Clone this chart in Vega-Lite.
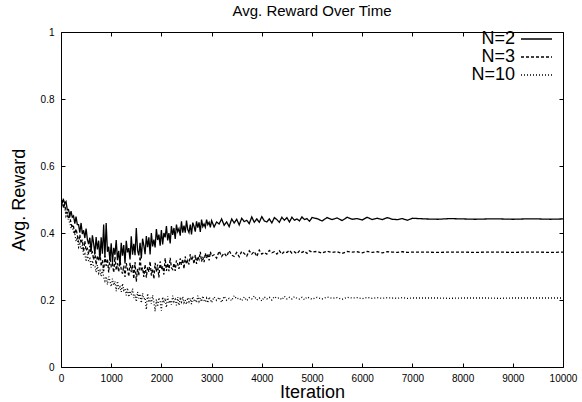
{
"$schema": "https://vega.github.io/schema/vega-lite/v6.json",
"width": 502, "height": 335,
"autosize": {"type": "none"},
"padding": {"left": 61, "top": 32, "right": 19, "bottom": 35},
"background": "white",
"title": {"text": "Avg. Reward Over Time", "fontSize": 15, "fontWeight": "normal", "font": "Liberation Sans", "color": "black", "offset": 8, "anchor": "middle"},
"config": {
  "view": {"stroke": "black", "strokeWidth": 1},
  "axis": {"domain": false, "grid": false, "ticks": true, "tickColor": "black", "tickSize": -4, "labelColor": "black", "labelFontSize": 10, "labelFont": "Liberation Sans", "titleFont": "Liberation Sans", "titleFontWeight": "normal", "titleColor": "black", "titleFontSize": 18, "labelFlush": false, "labelOverlap": false}
},
"data": {"values": [
{"i":0,"N=2":0.512,"N=3":0.499,"N=10":0.492},
{"i":25,"N=2":0.490,"N=3":0.493,"N=10":0.497},
{"i":50,"N=2":0.499,"N=3":0.475,"N=10":0.477},
{"i":75,"N=2":0.488,"N=3":0.486,"N=10":0.475},
{"i":100,"N=2":0.494,"N=3":0.460,"N=10":0.450},
{"i":125,"N=2":0.469,"N=3":0.461,"N=10":0.458},
{"i":150,"N=2":0.470,"N=3":0.442,"N=10":0.436},
{"i":175,"N=2":0.451,"N=3":0.450,"N=10":0.431},
{"i":200,"N=2":0.465,"N=3":0.428,"N=10":0.414},
{"i":225,"N=2":0.447,"N=3":0.415,"N=10":0.420},
{"i":250,"N=2":0.451,"N=3":0.419,"N=10":0.402},
{"i":275,"N=2":0.428,"N=3":0.397,"N=10":0.397},
{"i":300,"N=2":0.449,"N=3":0.412,"N=10":0.375},
{"i":325,"N=2":0.425,"N=3":0.394,"N=10":0.387},
{"i":350,"N=2":0.425,"N=3":0.372,"N=10":0.358},
{"i":375,"N=2":0.401,"N=3":0.395,"N=10":0.367},
{"i":400,"N=2":0.430,"N=3":0.369,"N=10":0.352},
{"i":425,"N=2":0.397,"N=3":0.380,"N=10":0.363},
{"i":450,"N=2":0.408,"N=3":0.345,"N=10":0.334},
{"i":475,"N=2":0.385,"N=3":0.376,"N=10":0.338},
{"i":500,"N=2":0.413,"N=3":0.347,"N=10":0.315},
{"i":525,"N=2":0.381,"N=3":0.353,"N=10":0.336},
{"i":550,"N=2":0.367,"N=3":0.336,"N=10":0.316},
{"i":575,"N=2":0.386,"N=3":0.362,"N=10":0.323},
{"i":600,"N=2":0.344,"N=3":0.338,"N=10":0.297},
{"i":625,"N=2":0.393,"N=3":0.343,"N=10":0.318},
{"i":650,"N=2":0.369,"N=3":0.320,"N=10":0.300},
{"i":675,"N=2":0.338,"N=3":0.342,"N=10":0.300},
{"i":700,"N=2":0.388,"N=3":0.305,"N=10":0.283},
{"i":725,"N=2":0.351,"N=3":0.333,"N=10":0.304},
{"i":750,"N=2":0.377,"N=3":0.317,"N=10":0.280},
{"i":775,"N=2":0.322,"N=3":0.345,"N=10":0.288},
{"i":800,"N=2":0.387,"N=3":0.301,"N=10":0.271},
{"i":825,"N=2":0.338,"N=3":0.319,"N=10":0.291},
{"i":850,"N=2":0.425,"N=3":0.286,"N=10":0.268},
{"i":875,"N=2":0.327,"N=3":0.332,"N=10":0.257},
{"i":900,"N=2":0.430,"N=3":0.302,"N=10":0.270},
{"i":925,"N=2":0.344,"N=3":0.323,"N=10":0.246},
{"i":950,"N=2":0.359,"N=3":0.282,"N=10":0.270},
{"i":975,"N=2":0.318,"N=3":0.328,"N=10":0.257},
{"i":1000,"N=2":0.369,"N=3":0.301,"N=10":0.240},
{"i":1025,"N=2":0.312,"N=3":0.309,"N=10":0.264},
{"i":1050,"N=2":0.356,"N=3":0.282,"N=10":0.244},
{"i":1075,"N=2":0.335,"N=3":0.329,"N=10":0.256},
{"i":1100,"N=2":0.379,"N=3":0.289,"N=10":0.226},
{"i":1125,"N=2":0.319,"N=3":0.310,"N=10":0.256},
{"i":1150,"N=2":0.347,"N=3":0.284,"N=10":0.232},
{"i":1175,"N=2":0.303,"N=3":0.322,"N=10":0.239},
{"i":1200,"N=2":0.371,"N=3":0.290,"N=10":0.224},
{"i":1225,"N=2":0.332,"N=3":0.279,"N=10":0.249},
{"i":1250,"N=2":0.364,"N=3":0.303,"N=10":0.229},
{"i":1275,"N=2":0.309,"N=3":0.269,"N=10":0.234},
{"i":1300,"N=2":0.377,"N=3":0.310,"N=10":0.214},
{"i":1325,"N=2":0.342,"N=3":0.293,"N=10":0.236},
{"i":1350,"N=2":0.355,"N=3":0.270,"N=10":0.209},
{"i":1375,"N=2":0.321,"N=3":0.311,"N=10":0.227},
{"i":1400,"N=2":0.390,"N=3":0.283,"N=10":0.216},
{"i":1425,"N=2":0.335,"N=3":0.305,"N=10":0.234},
{"i":1450,"N=2":0.368,"N=3":0.263,"N=10":0.206},
{"i":1475,"N=2":0.334,"N=3":0.313,"N=10":0.216},
{"i":1500,"N=2":0.415,"N=3":0.255,"N=10":0.195},
{"i":1525,"N=2":0.348,"N=3":0.293,"N=10":0.224},
{"i":1550,"N=2":0.333,"N=3":0.273,"N=10":0.205},
{"i":1575,"N=2":0.371,"N=3":0.330,"N=10":0.218},
{"i":1600,"N=2":0.324,"N=3":0.286,"N=10":0.191},
{"i":1625,"N=2":0.383,"N=3":0.297,"N=10":0.220},
{"i":1650,"N=2":0.363,"N=3":0.269,"N=10":0.203},
{"i":1675,"N=2":0.337,"N=3":0.306,"N=10":0.207},
{"i":1700,"N=2":0.391,"N=3":0.267,"N=10":0.172},
{"i":1725,"N=2":0.358,"N=3":0.298,"N=10":0.219},
{"i":1750,"N=2":0.387,"N=3":0.284,"N=10":0.193},
{"i":1775,"N=2":0.336,"N=3":0.315,"N=10":0.206},
{"i":1800,"N=2":0.400,"N=3":0.273,"N=10":0.189},
{"i":1825,"N=2":0.360,"N=3":0.293,"N=10":0.214},
{"i":1850,"N=2":0.380,"N=3":0.263,"N=10":0.193},
{"i":1875,"N=2":0.357,"N=3":0.311,"N=10":0.166},
{"i":1900,"N=2":0.412,"N=3":0.284,"N=10":0.201},
{"i":1925,"N=2":0.379,"N=3":0.306,"N=10":0.180},
{"i":1950,"N=2":0.395,"N=3":0.267,"N=10":0.207},
{"i":1975,"N=2":0.362,"N=3":0.315,"N=10":0.196},
{"i":2000,"N=2":0.409,"N=3":0.291,"N=10":0.168},
{"i":2025,"N=2":0.366,"N=3":0.301,"N=10":0.209},
{"i":2050,"N=2":0.400,"N=3":0.276,"N=10":0.191},
{"i":2075,"N=2":0.387,"N=3":0.325,"N=10":0.205},
{"i":2100,"N=2":0.421,"N=3":0.287,"N=10":0.178},
{"i":2125,"N=2":0.378,"N=3":0.310,"N=10":0.211},
{"i":2150,"N=2":0.400,"N=3":0.286,"N=10":0.190},
{"i":2175,"N=2":0.369,"N=3":0.326,"N=10":0.199},
{"i":2200,"N=2":0.421,"N=3":0.296,"N=10":0.186},
{"i":2225,"N=2":0.394,"N=3":0.291,"N=10":0.213},
{"i":2250,"N=2":0.415,"N=3":0.310,"N=10":0.195},
{"i":2275,"N=2":0.382,"N=3":0.287,"N=10":0.202},
{"i":2300,"N=2":0.425,"N=3":0.318,"N=10":0.184},
{"i":2325,"N=2":0.404,"N=3":0.307,"N=10":0.209},
{"i":2350,"N=2":0.413,"N=3":0.293,"N=10":0.184},
{"i":2375,"N=2":0.392,"N=3":0.324,"N=10":0.203},
{"i":2400,"N=2":0.435,"N=3":0.305,"N=10":0.194},
{"i":2425,"N=2":0.401,"N=3":0.322,"N=10":0.210},
{"i":2450,"N=2":0.422,"N=3":0.293,"N=10":0.192},
{"i":2475,"N=2":0.401,"N=3":0.330,"N=10":0.200},
{"i":2500,"N=2":0.437,"N=3":0.307,"N=10":0.187},
{"i":2525,"N=2":0.410,"N=3":0.318,"N=10":0.207},
{"i":2550,"N=2":0.401,"N=3":0.306,"N=10":0.195},
{"i":2575,"N=2":0.425,"N=3":0.337,"N=10":0.205},
{"i":2600,"N=2":0.396,"N=3":0.318,"N=10":0.188},
{"i":2625,"N=2":0.431,"N=3":0.327,"N=10":0.210},
{"i":2650,"N=2":0.420,"N=3":0.308,"N=10":0.199},
{"i":2675,"N=2":0.404,"N=3":0.335,"N=10":0.202},
{"i":2700,"N=2":0.435,"N=3":0.308,"N=10":0.192},
{"i":2725,"N=2":0.416,"N=3":0.330,"N=10":0.213},
{"i":2750,"N=2":0.432,"N=3":0.321,"N=10":0.196},
{"i":2775,"N=2":0.403,"N=3":0.344,"N=10":0.206},
{"i":2800,"N=2":0.440,"N=3":0.315,"N=10":0.195},
{"i":2825,"N=2":0.419,"N=3":0.329,"N=10":0.212},
{"i":2850,"N=2":0.427,"N=3":0.313,"N=10":0.199},
{"i":2875,"N=2":0.417,"N=3":0.340,"N=10":0.194},
{"i":2900,"N=2":0.440,"N=3":0.325,"N=10":0.205},
{"i":2925,"N=2":0.425,"N=3":0.338,"N=10":0.191},
{"i":2950,"N=2":0.432,"N=3":0.318,"N=10":0.209},
{"i":2975,"N=2":0.417,"N=3":0.344,"N=10":0.202},
{"i":3000,"N=2":0.437,"N=3":0.331,"N=10":0.192},
{"i":3050,"N=2":0.418,"N=3":0.335,"N=10":0.209},
{"i":3100,"N=2":0.433,"N=3":0.325,"N=10":0.199},
{"i":3150,"N=2":0.427,"N=3":0.346,"N=10":0.208},
{"i":3200,"N=2":0.442,"N=3":0.330,"N=10":0.193},
{"i":3250,"N=2":0.423,"N=3":0.340,"N=10":0.211},
{"i":3300,"N=2":0.433,"N=3":0.330,"N=10":0.199},
{"i":3350,"N=2":0.419,"N=3":0.347,"N=10":0.205},
{"i":3400,"N=2":0.442,"N=3":0.334,"N=10":0.198},
{"i":3450,"N=2":0.430,"N=3":0.330,"N=10":0.213},
{"i":3500,"N=2":0.441,"N=3":0.342,"N=10":0.203},
{"i":3550,"N=2":0.424,"N=3":0.329,"N=10":0.206},
{"i":3600,"N=2":0.444,"N=3":0.345,"N=10":0.198},
{"i":3650,"N=2":0.434,"N=3":0.339,"N=10":0.209},
{"i":3700,"N=2":0.438,"N=3":0.331,"N=10":0.198},
{"i":3750,"N=2":0.428,"N=3":0.347,"N=10":0.207},
{"i":3800,"N=2":0.448,"N=3":0.337,"N=10":0.203},
{"i":3850,"N=2":0.432,"N=3":0.345,"N=10":0.212},
{"i":3900,"N=2":0.442,"N=3":0.330,"N=10":0.200},
{"i":3950,"N=2":0.432,"N=3":0.349,"N=10":0.206},
{"i":4000,"N=2":0.449,"N=3":0.337,"N=10":0.197},
{"i":4050,"N=2":0.436,"N=3":0.342,"N=10":0.209},
{"i":4100,"N=2":0.433,"N=3":0.337,"N=10":0.203},
{"i":4150,"N=2":0.442,"N=3":0.348,"N=10":0.208},
{"i":4200,"N=2":0.430,"N=3":0.341,"N=10":0.200},
{"i":4250,"N=2":0.446,"N=3":0.344,"N=10":0.210},
{"i":4300,"N=2":0.440,"N=3":0.337,"N=10":0.205},
{"i":4350,"N=2":0.432,"N=3":0.347,"N=10":0.207},
{"i":4400,"N=2":0.447,"N=3":0.337,"N=10":0.201},
{"i":4450,"N=2":0.438,"N=3":0.345,"N=10":0.211},
{"i":4500,"N=2":0.446,"N=3":0.342,"N=10":0.203},
{"i":4550,"N=2":0.433,"N=3":0.348,"N=10":0.208},
{"i":4600,"N=2":0.447,"N=3":0.340,"N=10":0.203},
{"i":4650,"N=2":0.438,"N=3":0.344,"N=10":0.210},
{"i":4700,"N=2":0.442,"N=3":0.338,"N=10":0.205},
{"i":4750,"N=2":0.436,"N=3":0.347,"N=10":0.203},
{"i":4800,"N=2":0.448,"N=3":0.342,"N=10":0.208},
{"i":4850,"N=2":0.440,"N=3":0.346,"N=10":0.201},
{"i":4900,"N=2":0.443,"N=3":0.339,"N=10":0.209},
{"i":4950,"N=2":0.435,"N=3":0.347,"N=10":0.206},
{"i":5000,"N=2":0.446,"N=3":0.343,"N=10":0.202},
{"i":5100,"N=2":0.443,"N=3":0.345,"N=10":0.208},
{"i":5200,"N=2":0.436,"N=3":0.340,"N=10":0.203},
{"i":5300,"N=2":0.446,"N=3":0.346,"N=10":0.209},
{"i":5400,"N=2":0.440,"N=3":0.342,"N=10":0.205},
{"i":5500,"N=2":0.445,"N=3":0.344,"N=10":0.207},
{"i":5600,"N=2":0.437,"N=3":0.339,"N=10":0.202},
{"i":5700,"N=2":0.447,"N=3":0.345,"N=10":0.208},
{"i":5800,"N=2":0.441,"N=3":0.343,"N=10":0.206},
{"i":5900,"N=2":0.443,"N=3":0.344,"N=10":0.207},
{"i":6000,"N=2":0.439,"N=3":0.341,"N=10":0.204},
{"i":6100,"N=2":0.447,"N=3":0.345,"N=10":0.208},
{"i":6200,"N=2":0.440,"N=3":0.342,"N=10":0.205},
{"i":6300,"N=2":0.444,"N=3":0.344,"N=10":0.207},
{"i":6400,"N=2":0.440,"N=3":0.341,"N=10":0.205},
{"i":6500,"N=2":0.446,"N=3":0.344,"N=10":0.207},
{"i":6600,"N=2":0.441,"N=3":0.343,"N=10":0.206},
{"i":6700,"N=2":0.440,"N=3":0.342,"N=10":0.205},
{"i":6800,"N=2":0.443,"N=3":0.344,"N=10":0.207},
{"i":6900,"N=2":0.438,"N=3":0.342,"N=10":0.205},
{"i":7000,"N=2":0.444,"N=3":0.343,"N=10":0.206},
{"i":7250,"N=2":0.442,"N=3":0.343,"N=10":0.206},
{"i":7500,"N=2":0.441,"N=3":0.342,"N=10":0.206},
{"i":7750,"N=2":0.443,"N=3":0.343,"N=10":0.205},
{"i":8000,"N=2":0.442,"N=3":0.343,"N=10":0.206},
{"i":8250,"N=2":0.441,"N=3":0.342,"N=10":0.206},
{"i":8500,"N=2":0.442,"N=3":0.343,"N=10":0.206},
{"i":8750,"N=2":0.442,"N=3":0.343,"N=10":0.205},
{"i":9000,"N=2":0.441,"N=3":0.342,"N=10":0.206},
{"i":9250,"N=2":0.442,"N=3":0.343,"N=10":0.206},
{"i":9500,"N=2":0.442,"N=3":0.343,"N=10":0.206},
{"i":9750,"N=2":0.441,"N=3":0.342,"N=10":0.206},
{"i":10000,"N=2":0.442,"N=3":0.343,"N=10":0.206}
]},
"transform": [{"fold": ["N=2", "N=3", "N=10"], "as": ["series", "value"]}],
"layer": [
  {
    "mark": {"type": "line", "strokeWidth": 1.3, "color": "black", "clip": true},
    "encoding": {
      "x": {"field": "i", "type": "quantitative", "scale": {"domain": [0, 10000], "nice": false, "zero": false},
        "axis": {"orient": "bottom", "values": [0,1000,2000,3000,4000,5000,6000,7000,8000,9000,10000], "format": "d", "labelPadding": 10, "title": "Iteration", "titleX": 251, "titleY": 30, "titleBaseline": "alphabetic", "titleAlign": "center"}},
      "y": {"field": "value", "type": "quantitative", "scale": {"domain": [0, 1], "nice": false},
        "axis": {"orient": "left", "values": [0,0.2,0.4,0.6,0.8,1], "format": "~g", "labelPadding": 11, "title": "Avg. Reward", "titleX": -37, "titleY": 167.5, "titleAngle": 270, "titleBaseline": "alphabetic", "titleAlign": "center"}},
      "strokeDash": {"field": "series", "type": "nominal",
        "scale": {"domain": ["N=2", "N=3", "N=10"], "range": [[1, 0], [3, 2], [1, 2]]},
        "legend": {"orient": "none", "legendX": 466.5, "legendY": -2, "title": null, "labelFontSize": 18, "labelFont": "Liberation Sans", "labelColor": "black", "labelAlign": "right", "labelOffset": -30.5, "symbolType": "M-3.1,0H3.1", "symbolSize": 100, "symbolStrokeWidth": 1.3, "symbolStrokeColor": "black", "symbolFillColor": "transparent", "rowPadding": 0, "padding": 0, "symbolOffset": 0}}
    }
  },
  {
    "mark": {"type": "line", "opacity": 0},
    "encoding": {
      "x": {"field": "i", "type": "quantitative", "scale": {"domain": [0, 10000], "nice": false, "zero": false},
        "axis": {"orient": "top", "values": [0,1000,2000,3000,4000,5000,6000,7000,8000,9000,10000], "labels": false, "title": null}},
      "y": {"field": "value", "type": "quantitative", "scale": {"domain": [0, 1], "nice": false},
        "axis": {"orient": "right", "values": [0,0.2,0.4,0.6,0.8,1], "labels": false, "title": null}},
      "detail": {"field": "series", "type": "nominal"}
    }
  }
],
"resolve": {"axis": {"x": "independent", "y": "independent"}}
}
